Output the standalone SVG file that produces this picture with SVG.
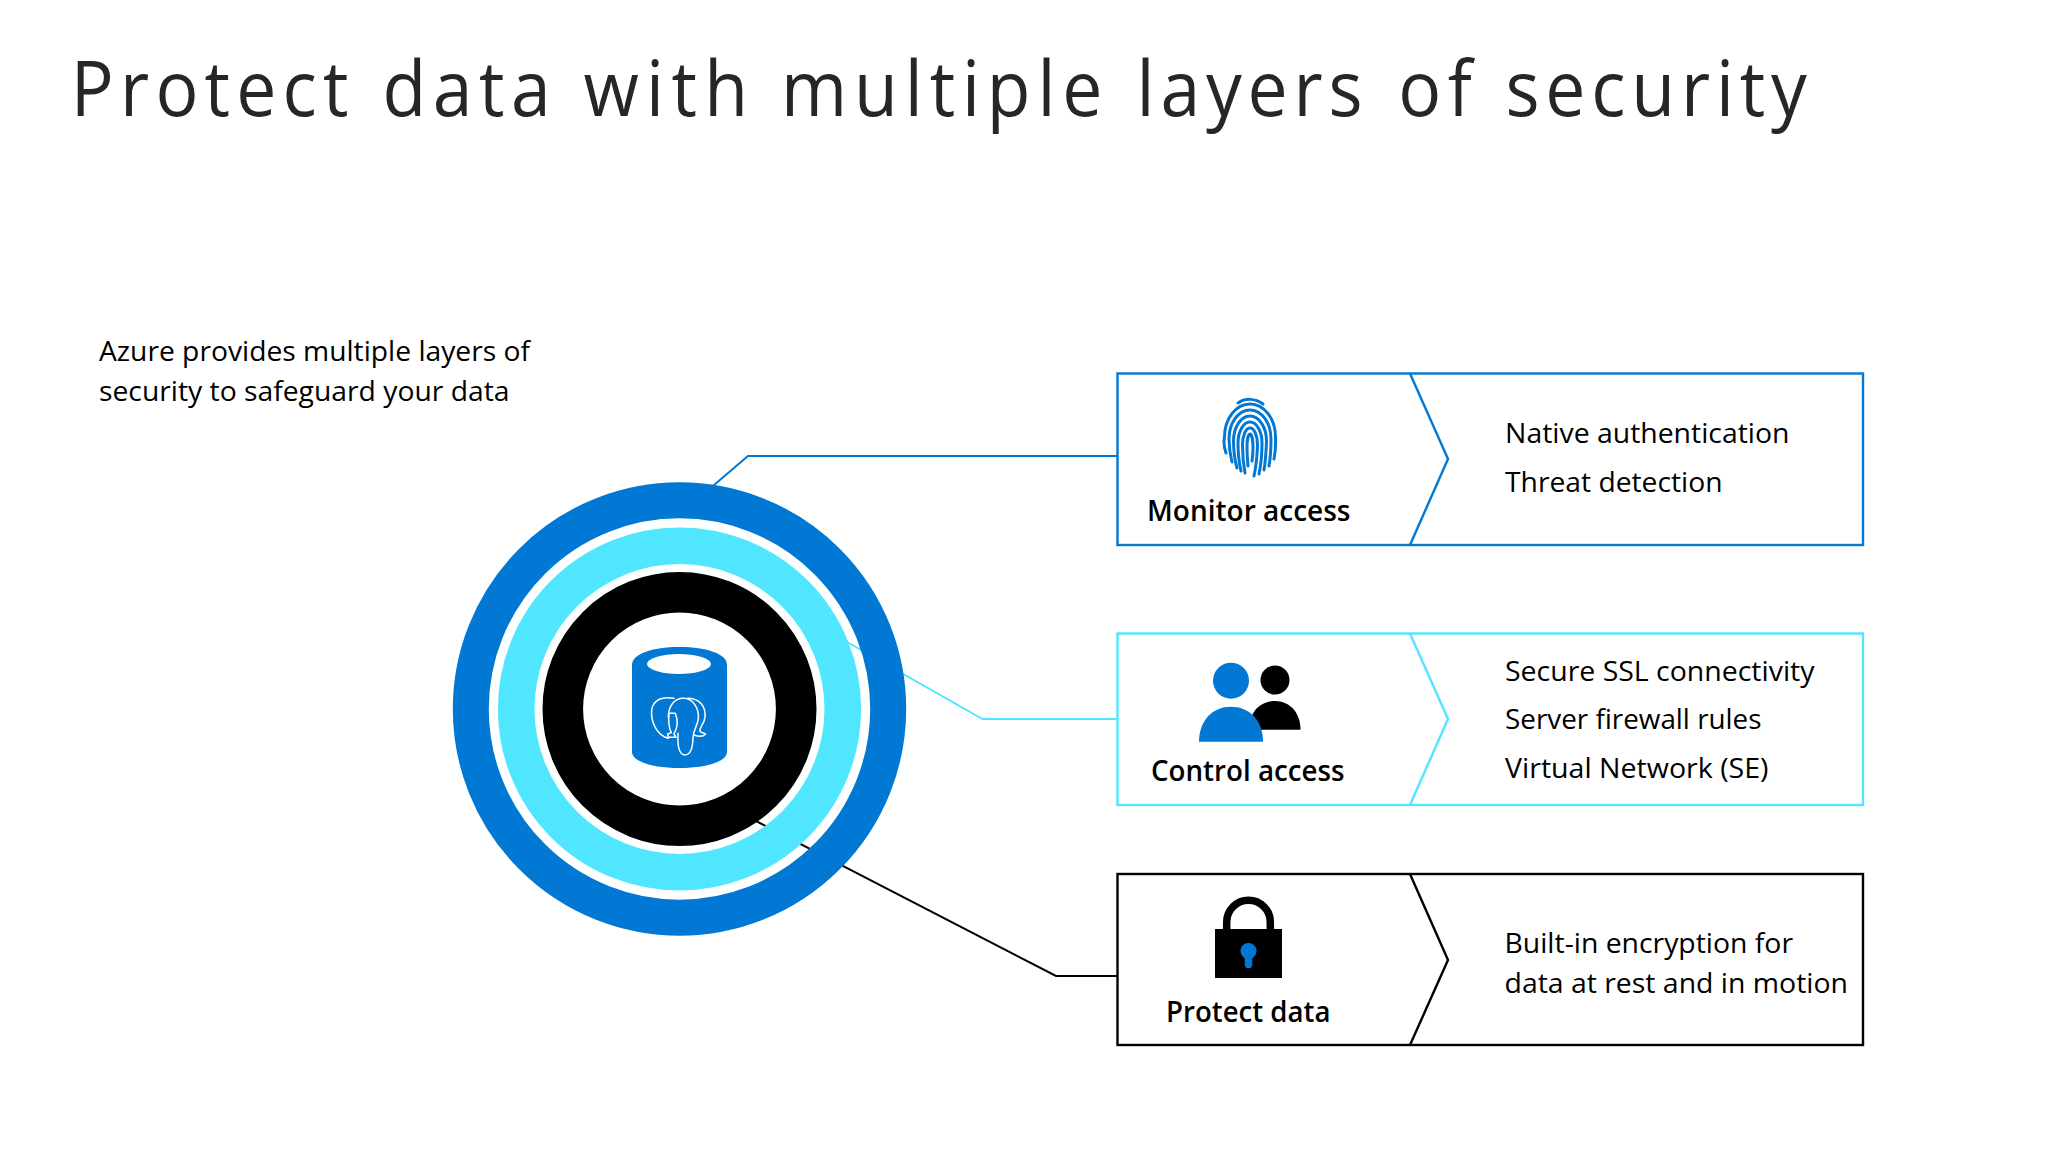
<svg xmlns="http://www.w3.org/2000/svg" width="2048" height="1152" viewBox="0 0 2048 1152">
<style>
text{font-family:"Open Sans","Noto Sans","Liberation Sans",sans-serif;fill:#000}
.t{font-size:76px;fill:#262626;letter-spacing:7px}
.b{font-size:28px}
.l{font-size:29px;font-weight:600}
.ln{fill:none;stroke-width:2}
.box{fill:none;stroke-width:2.4}
.blue{stroke:#0078D4}.cyan{stroke:#50E6FF}.black{stroke:#000}
.fp{fill:none;stroke:#0078D4;stroke-width:3;stroke-linecap:round}
.el{fill:none;stroke:#fff;stroke-width:4.5;stroke-linejoin:round;stroke-linecap:round}
</style>
<rect width="2048" height="1152" fill="#fff"/>
<text id="title" class="t" transform="translate(69.500 116) scale(.94 1)"><tspan x="1.400" style="letter-spacing:6.600px">Protect </tspan><tspan x="332.900">data </tspan><tspan x="546.700" style="letter-spacing:7.800px">with </tspan><tspan x="757" style="letter-spacing:7.300px">multiple </tspan><tspan x="1135.200" style="letter-spacing:6.200px">layers </tspan><tspan x="1413.600">of </tspan><tspan x="1527.600" style="letter-spacing:6.200px">security</tspan></text>
<g id="intro">
<text class="b" x="99" y="361" textLength="431" lengthAdjust="spacingAndGlyphs">Azure provides multiple layers of</text>
<text class="b" x="99" y="401" textLength="410.500" lengthAdjust="spacingAndGlyphs">security to safeguard your data</text>
</g>
<g id="connectors">
<polyline class="ln blue" points="700,497 748,456 1117,456"/>
<polyline class="ln cyan" points="840,638 982.500,719 1117,719"/>
<polyline class="ln black" points="750,818 1056,976 1117,976"/>
</g>
<g id="layers">
<circle cx="679.500" cy="709" r="208.700" fill="none" stroke="#0078D4" stroke-width="36"/>
<circle cx="679.500" cy="709" r="163.300" fill="none" stroke="#50E6FF" stroke-width="36.600"/>
<circle cx="679.500" cy="709" r="116.700" fill="none" stroke="#000" stroke-width="40.600"/>
</g>
<g id="database">
<path d="M632 665C632 654 652 647 679.500 647S727 654 727 665V752C727 761 708 768 679.500 768S632 761 632 752Z" fill="#0078D4"/>
<ellipse cx="679" cy="664" rx="32" ry="10" fill="#fff"/>
<g class="el" transform="translate(600 630) scale(.3333)">
<path class="el" d="M222 205C185 198 160 210 155 240C152 275 170 315 205 325"/>
<path class="el" d="M205 262C205 225 225 205 250 205C280 205 297 235 295 265C293 290 280 295 279 325C278 355 270 375 255 375C238 375 232 350 234 310"/>
<path class="el" d="M262 205C300 205 318 230 315 262C312 285 297 290 300 305L317 312C310 320 295 320 282 315"/>
<path class="el" d="M207 250H226C234 270 235 290 222 312L228 322H205L203 312L214 308C205 290 205 270 207 250Z"/>
</g>
</g>
<g id="monitor-access">
<rect class="box blue" x="1117.500" y="373.500" width="745.500" height="171.500"/>
<path class="box blue" d="M1410 373.500L1448 459L1410 545"/>
<g id="fingerprint">
<path class="fp" d="M1238 403C1245 398 1255 398 1263 404"/>
<path class="fp" d="M1226 453Q1223 445 1224.500 437A25.500 33 0 0 1 1275.500 437Q1276 450 1274 459"/>
<path class="fp" d="M1232 462Q1229 450 1229 439A21 29 0 0 1 1271 439Q1271 455 1269 466"/>
<path class="fp" d="M1237 468Q1233.500 455 1233.500 441A16.500 25 0 0 1 1266.500 441Q1266 458 1264 470"/>
<path class="fp" d="M1241 471Q1238 458 1238 443A12 21 0 0 1 1262 443Q1262 460 1259 474"/>
<path class="fp" d="M1245 473Q1242.500 460 1242.500 445A7.500 17 0 0 1 1257.500 445Q1257 462 1254 476"/>
<path class="fp" d="M1248 466Q1247 455 1247 447A3 13 0 0 1 1253 447Q1253 455 1252 461"/>
</g>
<text class="l" x="1147" y="521" textLength="203.500" lengthAdjust="spacingAndGlyphs">Monitor access</text>
<text class="b" x="1505" y="443" textLength="284.500" lengthAdjust="spacingAndGlyphs">Native authentication</text>
<text class="b" x="1505" y="492" textLength="217.500" lengthAdjust="spacingAndGlyphs">Threat detection</text>
</g>
<g id="control-access">
<rect class="box cyan" x="1117.500" y="633.500" width="745.500" height="171.500"/>
<path class="box cyan" d="M1410 633.500L1448 719L1410 805"/>
<g id="users">
<circle cx="1275" cy="680" r="14.500" fill="#000"/>
<path d="M1249 729.700C1249 712 1260 701 1275 701C1290 701 1300.500 713 1300.500 729.700Z" fill="#000"/>
<circle cx="1231" cy="680.700" r="18" fill="#0078D4"/>
<path d="M1199 741.700C1199 720 1213 706.700 1231 706.700C1249 706.700 1263 720 1263 741.700Z" fill="#0078D4"/>
</g>
<text class="l" x="1151" y="781" textLength="193.500" lengthAdjust="spacingAndGlyphs">Control access</text>
<text class="b" x="1505" y="681" textLength="309.500" lengthAdjust="spacingAndGlyphs">Secure SSL connectivity</text>
<text class="b" x="1505" y="729" textLength="256.500" lengthAdjust="spacingAndGlyphs">Server firewall rules</text>
<text class="b" x="1505" y="778" textLength="263.500" lengthAdjust="spacingAndGlyphs">Virtual Network (SE)</text>
</g>
<g id="protect-data">
<rect class="box black" x="1117.500" y="874" width="745.500" height="171"/>
<path class="box black" d="M1410 874L1448 960L1410 1045"/>
<g id="lock">
<path d="M1226.700 930V922A21.800 21.800 0 0 1 1270.300 922V930" fill="none" stroke="#000" stroke-width="7.500"/>
<rect x="1215" y="929" width="67" height="49" fill="#000"/>
<circle cx="1248.500" cy="951" r="8" fill="#0078D4"/>
<path d="M1248.500 951V964.500" stroke="#0078D4" stroke-width="7.500" stroke-linecap="round"/>
</g>
<text class="l" x="1166" y="1022" textLength="164.500" lengthAdjust="spacingAndGlyphs">Protect data</text>
<text class="b" x="1504.500" y="953" textLength="288.500" lengthAdjust="spacingAndGlyphs">Built-in encryption for</text>
<text class="b" x="1504.500" y="993" textLength="343.500" lengthAdjust="spacingAndGlyphs">data at rest and in motion</text>
</g>
</svg>
